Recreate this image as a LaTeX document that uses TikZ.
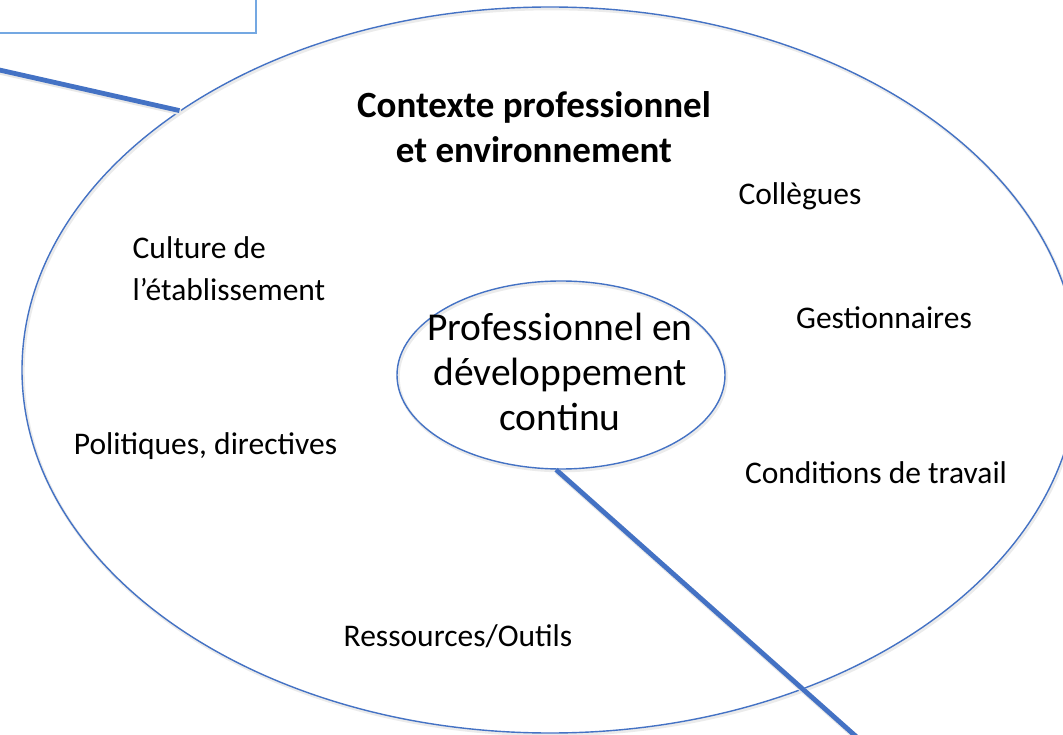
\documentclass[tikz,border=0pt]{standalone}
\usepackage{fontspec}
\setmainfont{Carlito}
\usetikzlibrary{shapes.geometric}
\definecolor{oblue}{RGB}{68,114,196}
\definecolor{lblue}{RGB}{116,168,226}
\tikzset{
  ringshape/.style={ellipse, draw=oblue, line width=1.4pt, inner sep=0pt,
    preaction={draw=black!8, line width=3pt, transform canvas={shift={(1.2pt,-1.8pt)}}}},
  thickline/.style={draw=oblue, line width=4.8pt,
    preaction={draw=black!9, line width=6pt, transform canvas={shift={(1.2pt,-1.8pt)}}}},
  lbl/.style={font=\fontsize{31.5}{42}\selectfont, inner sep=0pt, text=black},
  ttl/.style={font=\fontsize{37}{45}\selectfont\bfseries, align=center, inner sep=0pt},
  inn/.style={font=\fontsize{39.5}{45}\selectfont, align=center, inner sep=0pt}
}
\begin{document}
\begin{tikzpicture}[x=1pt,y=-1pt]
\useasboundingbox (0,0) rectangle (1063,735);
\clip (0,0) rectangle (1063,735);
% top-left box
\node[draw=lblue, line width=1.5pt, minimum width=286pt, minimum height=53pt, inner sep=0pt] (box) at (113,6.5) {};
% outer ellipse
\node[ringshape, minimum width=1056pt, minimum height=726pt] (outer) at (550,370) {};
% inner ellipse
\node[ringshape, minimum width=328pt, minimum height=188pt] (inner) at (561,375) {};
% connectors
\coordinate (l1) at (-5,69);
\coordinate (l2) at (860,740);
\draw[thickline] (l1) -- (outer.145.4);
\draw[thickline] (inner.267) -- (l2);
% texts
\node[ttl] (title) at (534,127) {Contexte professionnel\\et environnement};
\node[inn] (innertext) at (560,372) {Professionnel en\\développement\\continu};
\node[lbl] (coll) at (800,196) {Collègues};
\node[lbl, align=left] (cult) at (229,269) {Culture de\\l’établissement};
\node[lbl] (gest) at (884,318) {Gestionnaires};
\node[lbl] (pol) at (205.5,446) {Politiques, directives};
\node[lbl] (cond) at (876,473) {Conditions de travail};
\node[lbl] (res) at (458,636) {Ressources/Outils};
\end{tikzpicture}
\end{document}
